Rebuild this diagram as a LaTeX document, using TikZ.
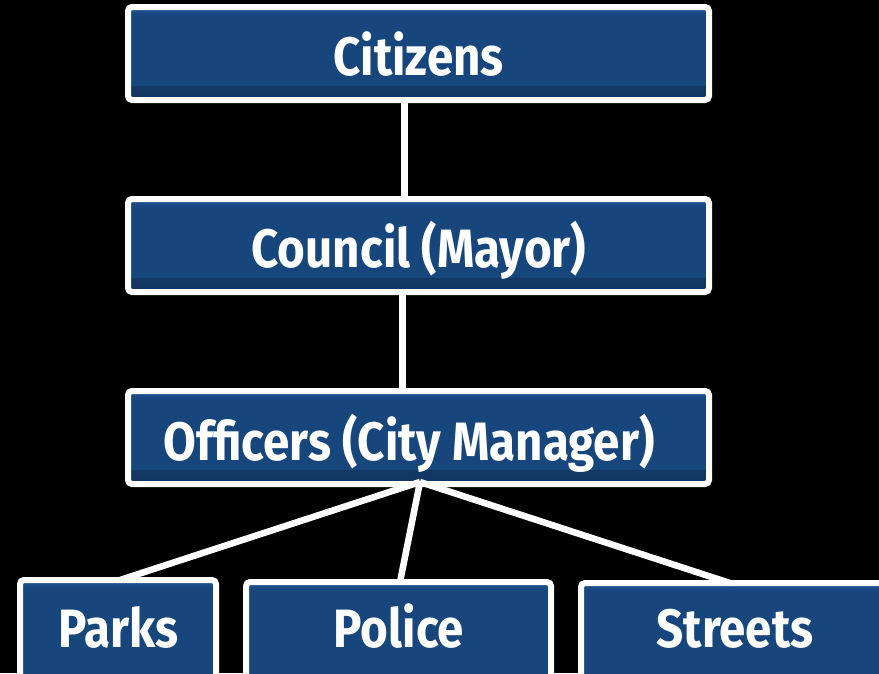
\documentclass[tikz,border=0pt]{standalone}
\usepackage{fontspec}
\newfontfamily\boxfont[FakeStretch=0.88]{Fira Sans}
\definecolor{boxblue}{HTML}{17467C}
\definecolor{boxdark}{HTML}{113660}
\definecolor{boxlight}{HTML}{1D5190}
\tikzset{
  box/.style={draw=white, line width=6pt, rounded corners=4pt, fill=boxblue,
    inner sep=0pt, outer sep=0pt,
    path picture={
      \shade[top color=boxblue, bottom color=boxdark]
        ([yshift=14pt]path picture bounding box.south west) rectangle (path picture bounding box.south east);
      \shade[top color=boxlight, bottom color=boxblue]
        (path picture bounding box.north west) rectangle ([yshift=-9pt]path picture bounding box.north east);
    }},
  lbl/.style={anchor=base, text=white, inner sep=0pt, font=\boxfont\bfseries\fontsize{54}{60}\selectfont},
  conn/.style={draw=white, line width=6.5pt}
}
\begin{document}
\begin{tikzpicture}[x=1pt,y=-1pt]
\fill[black] (0,0) rectangle (879,673);
\useasboundingbox (0,0) rectangle (879,673);
% boxes
\node[box, minimum width=581pt, minimum height=93pt] (cit) at (418.5,53.5) {};
\node[box, minimum width=581pt, minimum height=93pt] (cou) at (418.5,245.5) {};
\node[box, minimum width=581pt, minimum height=93pt] (off) at (418.5,437.5) {};
\node[box, minimum width=196pt, minimum height=120pt] (parks) at (118,640) {};
\node[box, minimum width=305pt, minimum height=120pt] (police) at (398.5,642) {};
\node[box, minimum width=308pt, minimum height=120pt] (streets) at (735,643) {};
% connectors
\draw[conn] ([xshift=-14pt]cit.south) -- ([xshift=-14pt]cou.north);
\draw[conn] ([xshift=-16pt]cou.south) -- ([xshift=-16pt]off.north);
\coordinate (hub) at ([xshift=1.5pt,yshift=2pt]off.south);
\draw[conn] (hub) -- ([xshift=2pt]parks.north);
\draw[conn] (hub) -- ([xshift=1.5pt]police.north);
\draw[conn] (hub) -- ([xshift=-5pt]streets.north);
% labels
\node[lbl] (citT) at (418.5,75) {Citizens};
\node[lbl] (couT) at (419,267) {Council (Mayor)};
\node[lbl] (offT) at (409,460) {Officers (City Manager)};
\node[lbl] (parksT) at (118.5,647) {Parks};
\node[lbl] (policeT) at (399,647) {Police};
\node[lbl] (streetsT) at (735,647) {Streets};
\end{tikzpicture}
\end{document}
